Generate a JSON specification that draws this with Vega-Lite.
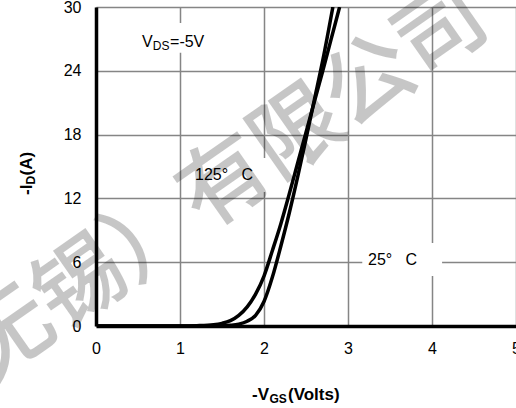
{
  "$schema": "https://vega.github.io/schema/vega-lite/v6.json",
  "width": 420,
  "height": 319,
  "autosize": "none",
  "padding": {"left": 96, "top": 7, "right": 0, "bottom": 82},
  "background": "white",
  "config": {
    "view": {"stroke": null},
    "font": "Liberation Sans",
    "text": {"font": "Liberation Sans", "color": "black"}
  },
  "datasets": {
    "curves": [
      {"vgs": 0, "id": 0, "temp": "125°C"},
      {"vgs": 1.0, "id": 0, "temp": "125°C"},
      {"vgs": 1.2, "id": 0.03, "temp": "125°C"},
      {"vgs": 1.4, "id": 0.12, "temp": "125°C"},
      {"vgs": 1.5, "id": 0.25, "temp": "125°C"},
      {"vgs": 1.6, "id": 0.5, "temp": "125°C"},
      {"vgs": 1.7, "id": 1.0, "temp": "125°C"},
      {"vgs": 1.8, "id": 1.8, "temp": "125°C"},
      {"vgs": 1.9, "id": 3.0, "temp": "125°C"},
      {"vgs": 2.0, "id": 4.7, "temp": "125°C"},
      {"vgs": 2.1, "id": 7.1, "temp": "125°C"},
      {"vgs": 2.2, "id": 9.6, "temp": "125°C"},
      {"vgs": 2.3, "id": 12.4, "temp": "125°C"},
      {"vgs": 2.4, "id": 15.3, "temp": "125°C"},
      {"vgs": 2.5, "id": 18.2, "temp": "125°C"},
      {"vgs": 2.6, "id": 21.1, "temp": "125°C"},
      {"vgs": 2.7, "id": 24.0, "temp": "125°C"},
      {"vgs": 2.8, "id": 27.0, "temp": "125°C"},
      {"vgs": 2.9, "id": 30.0, "temp": "125°C"},
      {"vgs": 0, "id": 0, "temp": "25°C"},
      {"vgs": 1.4, "id": 0, "temp": "25°C"},
      {"vgs": 1.5, "id": 0.02, "temp": "25°C"},
      {"vgs": 1.6, "id": 0.07, "temp": "25°C"},
      {"vgs": 1.7, "id": 0.18, "temp": "25°C"},
      {"vgs": 1.8, "id": 0.45, "temp": "25°C"},
      {"vgs": 1.9, "id": 1.0, "temp": "25°C"},
      {"vgs": 2.0, "id": 2.3, "temp": "25°C"},
      {"vgs": 2.1, "id": 4.6, "temp": "25°C"},
      {"vgs": 2.2, "id": 7.5, "temp": "25°C"},
      {"vgs": 2.3, "id": 10.6, "temp": "25°C"},
      {"vgs": 2.4, "id": 14.0, "temp": "25°C"},
      {"vgs": 2.5, "id": 17.6, "temp": "25°C"},
      {"vgs": 2.6, "id": 21.3, "temp": "25°C"},
      {"vgs": 2.7, "id": 25.0, "temp": "25°C"},
      {"vgs": 2.82, "id": 30.0, "temp": "25°C"}
    ],
    "one": [{}]
  },
  "layer": [
    {
      "data": {"name": "curves"},
      "mark": {"type": "line", "strokeWidth": 3.5, "interpolate": "monotone", "clip": true},
      "encoding": {
        "x": {
          "field": "vgs", "type": "quantitative",
          "scale": {"domain": [0, 5], "nice": false, "zero": false},
          "axis": {
            "values": [0, 1, 2, 3, 4, 5], "format": "d", "title": null, "grid": true,
            "gridColor": "#858585", "gridWidth": 1.5, "gridOpacity": 1,
            "domain": true, "domainColor": "black", "domainWidth": 3.5,
            "ticks": false, "labelFlush": false, "labelOverlap": false,
            "labelFont": "Liberation Sans", "labelFontSize": 16, "labelColor": "black",
            "labelPadding": 14
          }
        },
        "y": {
          "field": "id", "type": "quantitative",
          "scale": {"domain": [0, 30], "nice": false, "zero": false},
          "axis": {
            "values": [0, 6, 12, 18, 24, 30], "format": "d", "title": null, "grid": true,
            "gridColor": "#858585", "gridWidth": 1.5, "gridOpacity": 1,
            "domain": true, "domainColor": "black", "domainWidth": 3.5,
            "ticks": false, "labelOverlap": false, "labelFlush": false,
            "labelFont": "Liberation Sans", "labelFontSize": 16, "labelColor": "black",
            "labelPadding": 15
          }
        },
        "detail": {"field": "temp", "type": "nominal"},
        "color": {"value": "black"}
      }
    },
    {
      "data": {"name": "one"},
      "layer": [
        {"mark": {"type": "rect", "fill": "white", "clip": true},
         "encoding": {"x": {"datum": 0.48}, "x2": {"datum": 1.40}, "y": {"datum": 28.5}, "y2": {"datum": 25.7}}},
        {"mark": {"type": "rect", "fill": "white", "clip": true},
         "encoding": {"x": {"datum": 1.12}, "x2": {"datum": 2.07}, "y": {"datum": 15.8}, "y2": {"datum": 12.6}}},
        {"mark": {"type": "rect", "fill": "white", "clip": true},
         "encoding": {"x": {"datum": 3.17}, "x2": {"datum": 4.12}, "y": {"datum": 7.8}, "y2": {"datum": 4.7}}},
        {"mark": {"type": "text", "text": "V", "fontSize": 16, "align": "left", "baseline": "alphabetic"},
         "encoding": {"x": {"datum": 0.548}, "y": {"datum": 26.28}}},
        {"mark": {"type": "text", "text": "DS", "fontSize": 12, "align": "left", "baseline": "alphabetic", "dx": 10.7, "dy": 3},
         "encoding": {"x": {"datum": 0.548}, "y": {"datum": 26.28}}},
        {"mark": {"type": "text", "text": "=-5V", "fontSize": 16, "align": "left", "baseline": "alphabetic", "dx": 28},
         "encoding": {"x": {"datum": 0.548}, "y": {"datum": 26.28}}},
        {"mark": {"type": "text", "text": "125°\u00a0\u00a0\u00a0C", "fontSize": 16, "align": "left", "baseline": "alphabetic"},
         "encoding": {"x": {"datum": 1.179}, "y": {"datum": 13.73}}},
        {"mark": {"type": "text", "text": "25°\u00a0\u00a0\u00a0C", "fontSize": 16, "align": "left", "baseline": "alphabetic"},
         "encoding": {"x": {"datum": 3.238}, "y": {"datum": 5.74}}}
      ]
    },
    {
      "data": {"name": "one"},
      "layer": [
        {"mark": {"type": "text", "text": "-V", "fontSize": 17, "fontWeight": "bold", "align": "left", "baseline": "alphabetic", "clip": false},
         "encoding": {"x": {"datum": 1.857}, "y": {"datum": -6.96}}},
        {"mark": {"type": "text", "text": "GS", "fontSize": 12, "fontWeight": "bold", "align": "left", "baseline": "alphabetic", "dx": 17.5, "dy": 3, "clip": false},
         "encoding": {"x": {"datum": 1.857}, "y": {"datum": -6.96}}},
        {"mark": {"type": "text", "text": "(Volts)", "fontSize": 17, "fontWeight": "bold", "align": "left", "baseline": "alphabetic", "dx": 36, "clip": false},
         "encoding": {"x": {"datum": 1.857}, "y": {"datum": -6.96}}},
        {"mark": {"type": "text", "text": "-I", "fontSize": 17, "fontWeight": "bold", "align": "left", "baseline": "alphabetic", "angle": 270, "clip": false},
         "encoding": {"x": {"datum": -0.762}, "y": {"datum": 12.32}}},
        {"mark": {"type": "text", "text": "D", "fontSize": 12, "fontWeight": "bold", "align": "left", "baseline": "alphabetic", "angle": 270, "dx": 10.5, "dy": 3, "clip": false},
         "encoding": {"x": {"datum": -0.762}, "y": {"datum": 12.32}}},
        {"mark": {"type": "text", "text": "(A)", "fontSize": 17, "fontWeight": "bold", "align": "left", "baseline": "alphabetic", "angle": 270, "dx": 19.5, "clip": false},
         "encoding": {"x": {"datum": -0.762}, "y": {"datum": 12.32}}}
      ]
    },
    {
      "data": {"name": "one"},
      "mark": {"type": "text", "text": "无锡）有限公司", "font": "Noto Sans CJK SC", "fontSize": 88, "fontWeight": "normal", "angle": -35, "align": "center", "baseline": "middle", "color": "black", "stroke": "black", "strokeWidth": 1.8, "opacity": 0.22, "clip": false},
      "encoding": {"x": {"datum": 1.55}, "y": {"datum": 13.3}}
    }
  ]
}
